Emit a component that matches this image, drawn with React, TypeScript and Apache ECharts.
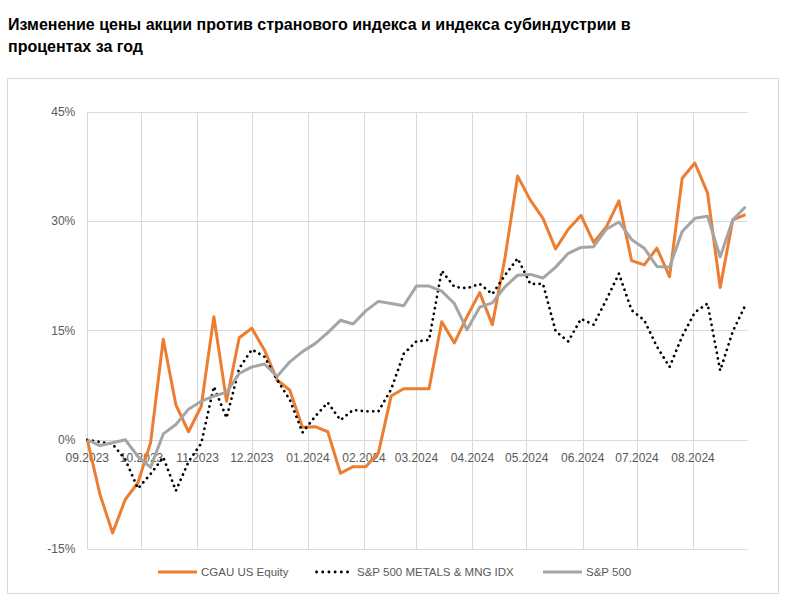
import React, { useEffect, useRef } from "react";
import * as echarts from "echarts";

const titleText =
  "Изменение цены акции против странового индекса и индекса субиндустрии в\nпроцентах за год";

const weekDates = [
  "2023-09-01", "2023-09-08", "2023-09-15", "2023-09-22", "2023-09-29",
  "2023-10-06", "2023-10-13", "2023-10-20", "2023-10-27",
  "2023-11-03", "2023-11-10", "2023-11-17", "2023-11-24",
  "2023-12-01", "2023-12-08", "2023-12-15", "2023-12-22", "2023-12-29",
  "2024-01-05", "2024-01-12", "2024-01-19", "2024-01-26",
  "2024-02-02", "2024-02-09", "2024-02-16", "2024-02-23",
  "2024-03-01", "2024-03-08", "2024-03-15", "2024-03-22", "2024-03-29",
  "2024-04-05", "2024-04-12", "2024-04-19", "2024-04-26",
  "2024-05-03", "2024-05-10", "2024-05-17", "2024-05-24", "2024-05-31",
  "2024-06-07", "2024-06-14", "2024-06-21", "2024-06-28",
  "2024-07-05", "2024-07-12", "2024-07-19", "2024-07-26",
  "2024-08-02", "2024-08-09", "2024-08-16", "2024-08-23", "2024-08-30",
];

const cgauValues = [
  0, -7.5, -12.8, -8.2, -5.9, -0.4, 13.8, 4.8, 1.1, 4.6,
  16.9, 5.3, 14.0, 15.3, 12.3, 8.2, 6.8, 1.7, 1.8, 1.1,
  -4.6, -3.7, -3.7, -1.8, 6.0, 7.0, 7.0, 7.0, 16.2, 13.3,
  16.9, 20.2, 15.8, 25.0, 36.2, 32.9, 30.4, 26.2, 28.9, 30.8,
  27.1, 29.2, 32.8, 24.6, 24.0, 26.3, 22.4, 35.9, 38.0, 33.9,
  20.9, 30.2, 30.9,
];

const metalsValues = [
  0, -0.3, -0.6, -2.7, -6.7, -4.7, -2.4, -7.0, -3.0, -0.5,
  7.3, 3.0, 9.8, 12.4, 11.4, 8.2, 5.5, 1.0, 3.2, 5.1,
  2.7, 4.1, 3.9, 3.9, 6.9, 11.8, 13.5, 13.7, 23.2, 21.0,
  20.8, 21.4, 20.0, 22.6, 24.9, 21.4, 21.4, 14.9, 13.5, 16.6,
  15.8, 19.2, 22.8, 17.8, 16.4, 12.8, 10.0, 14.2, 17.5, 18.7,
  9.5, 14.9, 18.5,
];

const sp500Values = [
  0, -0.8, -0.4, 0.0, -2.3, -3.8, 0.8, 2.1, 4.2, 5.3,
  6.0, 6.5, 9.1, 10.0, 10.4, 8.7, 10.7, 12.1, 13.2, 14.7,
  16.4, 15.9, 17.7, 19.0, 18.7, 18.4, 21.1, 21.1, 20.4, 18.7,
  15.1, 18.2, 18.8, 21.0, 22.6, 22.7, 22.2, 23.7, 25.6, 26.4,
  26.5, 28.9, 29.9, 27.5, 26.3, 23.8, 23.7, 28.6, 30.4, 30.7,
  25.1, 30.2, 32.0,
];

const monthLabels = [
  "09.2023", "10.2023", "11.2023", "12.2023", "01.2024", "02.2024",
  "03.2024", "04.2024", "05.2024", "06.2024", "07.2024", "08.2024",
];

const seriesNames = ["CGAU US Equity", "S&P 500 METALS & MNG IDX", "S&P 500"];
const seriesColors = ["#ED7D31", "#000000", "#A5A5A5"];

const axisStart = "2023-09-01";
const axisEnd = "2024-08-31";
const yMin = -15;
const yMax = 45;
const yStep = 15;

function dateTs(s: string): number {
  const [y, m, d] = s.split("-").map(Number);
  return new Date(y, m - 1, d).getTime();
}
function monthTs(label: string): number {
  const [m, y] = label.split(".").map(Number);
  return new Date(y, m - 1, 1).getTime();
}
function fmtMonth(v: number): string {
  const d = new Date(v);
  const m = d.getMonth() + 1;
  return (m < 10 ? "0" + m : "" + m) + "." + d.getFullYear();
}

export default function App() {
  const ref = useRef<HTMLDivElement>(null);
  useEffect(() => {
    if (!ref.current) return;
    const chart = echarts.init(ref.current, undefined, { renderer: "svg" });
    const monthTicks = monthLabels.map(monthTs);
    const toPairs = (vals: number[]) => weekDates.map((d, i) => [dateTs(d), vals[i]]);
    const font = "'Liberation Sans', Arial, sans-serif";

    // manual legend (line icon + text)
    const legendY = 572;
    const legendItems = [
      { x: 158, dotted: false },
      { x: 315, dotted: true },
      { x: 543, dotted: false },
    ];
    const legendGraphics: any[] = [];
    legendItems.forEach((it, i) => {
      const w = it.dotted ? 36 : 39;
      legendGraphics.push({
        type: "line",
        silent: true,
        shape: { x1: it.x + (it.dotted ? 1.5 : 0), y1: legendY, x2: it.x + w, y2: legendY },
        style: it.dotted
          ? { stroke: seriesColors[i], lineWidth: 2.8, lineDash: [0.1, 6.1], lineCap: "round" }
          : { stroke: seriesColors[i], lineWidth: 3 },
      });
      legendGraphics.push({
        type: "text",
        silent: true,
        x: it.x + w + (it.dotted ? 6 : 4),
        y: legendY,
        style: {
          text: seriesNames[i],
          fontFamily: font,
          fontSize: 11.5,
          fill: "#595959",
          verticalAlign: "middle",
          align: "left",
        },
      });
    });

    chart.setOption({
      animation: false,
      backgroundColor: "#ffffff",
      title: {
        text: titleText,
        left: 3,
        top: 8,
        textStyle: {
          fontFamily: font,
          fontSize: 16,
          fontWeight: "bold",
          color: "#000000",
          lineHeight: 22,
        },
      },
      graphic: [
        {
          type: "rect",
          shape: { x: 7.5, y: 78.5, width: 771, height: 515 },
          style: { fill: "none", stroke: "#d9d9d9", lineWidth: 1 },
          silent: true,
          z: -10,
        },
        ...legendGraphics,
      ],
      grid: { left: 87.3, right: 41.7, top: 112, bottom: 61, containLabel: false },
      xAxis: {
        type: "value",
        min: dateTs(axisStart),
        max: dateTs(axisEnd),
        axisLine: { show: false, onZero: false },
        axisTick: { show: false, customValues: monthTicks },
        axisLabel: {
          customValues: monthTicks,
          formatter: (v: number) => fmtMonth(v),
          fontFamily: font,
          fontSize: 12,
          color: "#595959",
          margin: -97,
          hideOverlap: false,
        },
        splitLine: { show: true, lineStyle: { color: "#d9d9d9", width: 1 } },
      },
      yAxis: {
        type: "value",
        min: yMin,
        max: yMax,
        interval: yStep,
        axisLine: { show: false },
        axisTick: { show: false },
        axisLabel: {
          formatter: (v: number) => v + "%",
          fontFamily: font,
          fontSize: 12,
          color: "#595959",
          margin: 12,
        },
        splitLine: { show: true, lineStyle: { color: "#d9d9d9", width: 1 } },
      },
      series: [
        {
          name: seriesNames[0],
          type: "line",
          data: toPairs(cgauValues),
          showSymbol: false,
          symbol: "none",
          lineStyle: { color: seriesColors[0], width: 3, join: "round" },
          itemStyle: { color: seriesColors[0] },
        },
        {
          name: seriesNames[1],
          type: "line",
          data: toPairs(metalsValues),
          showSymbol: false,
          symbol: "none",
          lineStyle: { color: seriesColors[1], width: 2.7, type: [0.1, 5.6], cap: "round", join: "round" },
          itemStyle: { color: seriesColors[1] },
        },
        {
          name: seriesNames[2],
          type: "line",
          data: toPairs(sp500Values),
          showSymbol: false,
          symbol: "none",
          lineStyle: { color: seriesColors[2], width: 3, join: "round" },
          itemStyle: { color: seriesColors[2] },
        },
      ],
    });
    return () => chart.dispose();
  }, []);
  return (
    <div
      ref={ref}
      style={{ position: "absolute", left: 0, top: 0, width: 789, height: 610 }}
    />
  );
}
